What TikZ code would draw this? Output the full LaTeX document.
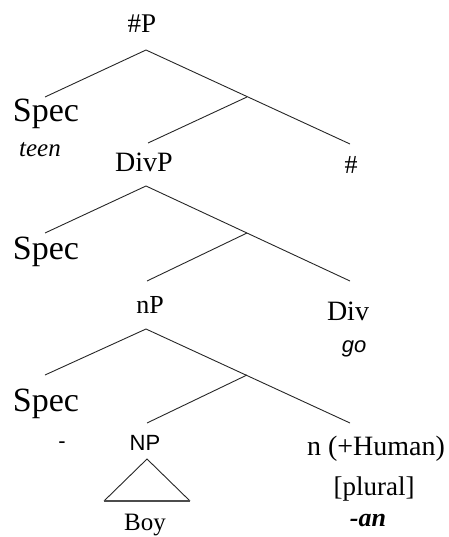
\documentclass[tikz,border=0pt]{standalone}
\usepackage{fontspec}
\setmainfont{Liberation Serif}
\newfontfamily\sansf{Liberation Sans}
\begin{document}
\begin{tikzpicture}[x=1pt,y=-1pt,
  lbl/.style={anchor=base,inner sep=0pt,text=black},
  branch/.style={draw=black!85,line width=0.9pt},
  fsz/.style={font=\fontsize{#1}{#1}\selectfont}]
\useasboundingbox (0,0) rectangle (448,537);
% labels
\node[lbl,fsz=27] (hP) at (142,33) {\#P};
\node[lbl,fsz=34] (spec1) at (46,122) {Spec};
\node[lbl,fsz=25] (teen) at (40,157) {\itshape teen};
\node[lbl,fsz=28] (divP) at (144,172) {DivP};
\node[lbl,fsz=26] (hash) at (351,174) {\#};
\node[lbl,fsz=34] (spec2) at (46,259) {Spec};
\node[lbl,fsz=26] (nP) at (150,313) {nP};
\node[lbl,fsz=28] (div) at (348,320) {Div};
\node[lbl,fsz=22] (go) at (354,352) {\sansf\itshape go};
\node[lbl,fsz=34] (spec3) at (46,411) {Spec};
\node[lbl,fsz=22] (dash) at (62,448) {\sansf -};
\node[lbl,fsz=22] (NP) at (145,450) {\sansf NP};
\node[lbl,fsz=28] (nhum) at (376,455) {n (+Human)};
\node[lbl,fsz=27] (plural) at (374,495) {[plural]};
\node[lbl,fsz=25] (boy) at (145,530) {Boy};
\node[lbl,fsz=26] (an) at (368,526) {\bfseries\itshape -an};
% tree points
\coordinate (a1) at (146,50);  \coordinate (l1) at (45,97);
\coordinate (r1) at (350,144); \coordinate (m1) at (247,97);
\coordinate (d1) at (148,143);
\coordinate (a2) at (146,186); \coordinate (l2) at (45,233);
\coordinate (r2) at (350,281); \coordinate (m2) at (247,233);
\coordinate (d2) at (147,281);
\coordinate (a3) at (146,329); \coordinate (l3) at (45,375);
\coordinate (r3) at (350,423); \coordinate (m3) at (247,375);
\coordinate (d3) at (147,423);
\coordinate (ta) at (147,459); \coordinate (tl) at (104,501);
\coordinate (tr) at (190,501);
% branches
\draw[branch] (l1) -- (a1) -- (r1);
\draw[branch] (m1) -- (d1);
\draw[branch] (l2) -- (a2) -- (r2);
\draw[branch] (m2) -- (d2);
\draw[branch] (l3) -- (a3) -- (r3);
\draw[branch] (m3) -- (d3);
\draw[branch] (tl) -- (ta) -- (tr);
\draw[draw=black!70,line width=1.6pt] (tl) -- (tr);
\end{tikzpicture}
\end{document}
